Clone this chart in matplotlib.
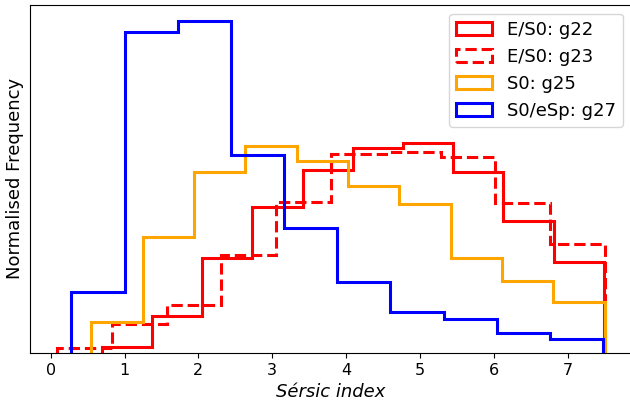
import numpy as np
import matplotlib
matplotlib.use('Agg')
import matplotlib.pyplot as plt

# bin edges (Sersic index) and normalised heights
edges_g22 = [0.69, 1.37, 2.05, 2.73, 3.41, 4.09, 4.77, 5.45, 6.13, 6.81, 7.49]
freq_g22 = [5.7, 37.0, 94.7, 146.3, 183.7, 205.3, 210.7, 181.3, 132.3, 90.7]

edges_g23 = [0.09, 0.83, 1.57, 2.31, 3.05, 3.80, 4.54, 5.28, 6.02, 6.76, 7.50]
freq_g23 = [4.7, 29.0, 48.0, 98.0, 151.3, 199.0, 201.3, 196.3, 149.7, 108.7]

edges_g25 = [0.55, 1.245, 1.94, 2.635, 3.33, 4.025, 4.72, 5.415, 6.11, 6.805, 7.50]
freq_g25 = [30.7, 116.0, 181.0, 207.7, 192.7, 167.3, 148.7, 94.7, 72.3, 51.3]

edges_g27 = [0.28, 1.0, 1.72, 2.44, 3.16, 3.88, 4.60, 5.32, 6.04, 6.76, 7.48]
freq_g27 = [61.3, 321.3, 332.3, 198.0, 125.3, 71.3, 41.3, 33.7, 20.3, 14.0]

series = [
    (edges_g22, freq_g22, 'red', '-', 'E/S0: g22'),
    (edges_g23, freq_g23, 'red', '--', 'E/S0: g23'),
    (edges_g25, freq_g25, 'orange', '-', 'S0: g25'),
    (edges_g27, freq_g27, 'blue', '-', 'S0/eSp: g27'),
]

fig = plt.figure(figsize=(6.3, 4.01), dpi=100)
ax = fig.add_axes([30 / 630, 48 / 401, 602 / 630, 348.5 / 401])

for edges, freq, col, ls, lab in series:
    edges = np.array(edges)
    ax.hist(edges[:-1], bins=edges, weights=freq, histtype='step',
            color=col, linestyle=ls, linewidth=2.2, label=lab)

ax.set_yticks([])
ax.set_xticks(range(0, 8))
ax.tick_params(axis='x', labelsize=11.5)
ax.set_xlabel('Sérsic index', fontsize=13, style='italic')
ax.set_ylabel('Normalised Frequency', fontsize=13)
ax.legend(loc='upper right', fontsize=13)

fig.savefig('out.png', dpi=100)
